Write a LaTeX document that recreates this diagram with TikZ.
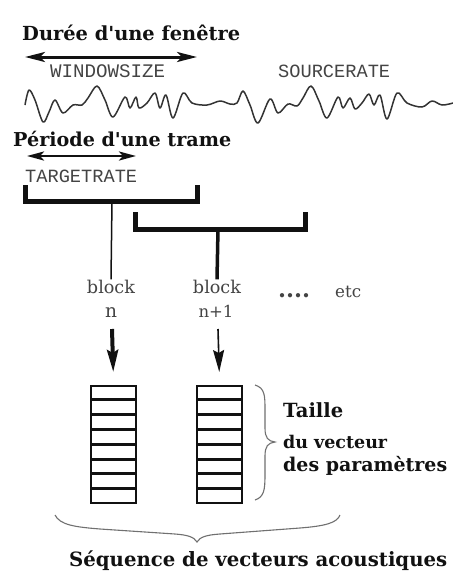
\documentclass[tikz,border=0pt]{standalone}
\usepackage{fontspec}
\usepackage{graphicx}
\usetikzlibrary{arrows.meta,calc}
\newfontfamily\serifd{DejaVu Serif}
\newfontfamily\monod{Liberation Mono}
\newcommand{\fw}[2]{\resizebox{#1pt}{!}{#2}}
\definecolor{ink}{HTML}{111111}
\definecolor{txtgray}{HTML}{444444}
\definecolor{bracegray}{HTML}{707070}
\definecolor{wavegray}{HTML}{333333}
\tikzset{
  head/.style={inner sep=0pt,anchor=base west,text=ink,font=\serifd\bfseries},
  monotxt/.style={inner sep=0pt,anchor=base west,text=txtgray,font=\monod},
  blocktxt/.style={inner sep=0pt,anchor=base,text=txtgray,font=\serifd},
  dbl/.style={line width=3pt,ink,{Stealth[length=20pt,width=10pt,inset=5pt]}-{Stealth[length=20pt,width=10pt,inset=5pt]}},
  dbltwo/.style={line width=2.6pt,ink,{Stealth[length=17pt,width=9pt,inset=4pt]}-{Stealth[length=17pt,width=9pt,inset=4pt]}},
  bracketline/.style={line width=5pt,ink,miter limit=10,line join=miter},
  vecbox/.style={draw=ink,line width=1.5pt,minimum width=45pt,minimum height=117pt,inner sep=0pt},
  cellline/.style={line width=3pt,ink},
  bracecurve/.style={bracegray,line width=1.1pt},
  downarrow/.style={ink,-{Stealth[length=22pt,width=11pt,inset=3pt]}}
}
\begin{document}
\begin{tikzpicture}[x=1pt,y=-1pt]
\useasboundingbox[fill=white] (0,0) rectangle (453,574);

% headings
\node[head] (h1) at (22,40) {\fw{218}{Durée d'une fenêtre}};
\node[head] (h2) at (13,146) {\fw{218}{Période d'une trame}};

% window arrow
\coordinate (w1) at (25,57);
\coordinate (w2) at (197,57);
\draw[dbl] (w1) -- (w2);
\node[monotxt] (ws) at (50,77) {\fw{115}{WINDOWSIZE}};
\node[monotxt] (sr) at (278,77) {\fw{112}{SOURCERATE}};

% waveform
\draw[wavegray,line width=1.5pt,line join=round] plot[smooth,tension=0.55] coordinates {
(25,105) (29,90) (35,100) (43,122) (49,112) (55,100) (63,113) (73,105) (82,105) (88,98) (97,86)
(105,100) (113,117) (125,97) (130,108) (136,97) (139,108) (147,103) (155,93) (160,108) (166,95)
(173,118) (183,93) (192,103) (207,105) (220,101) (230,104) (237,103) (243,91) (250,105) (258,123)
(270,99) (278,113) (288,104) (297,106) (303,98) (311,86) (319,101) (327,118) (338,97) (343,108)
(350,98) (355,109) (362,103) (369,94) (374,105) (380,95) (387,119) (397,93) (407,103) (422,107)
(432,101) (442,105) (453,103)};

% frame arrow
\coordinate (t1) at (27,156);
\coordinate (t2) at (136,156);
\draw[dbltwo] (t1) -- (t2);
\node[monotxt] (tr) at (25,182) {\fw{112}{TARGETRATE}};

% brackets
\coordinate (b1l) at (25,185);
\coordinate (b1r) at (197,185);
\coordinate (b1m) at (112,201);
\draw[bracketline] (b1l) |- (b1m) -| (b1r);
\coordinate (b2l) at (135,212);
\coordinate (b2r) at (305,212);
\coordinate (b2m) at (218,229);
\draw[bracketline] (b2l) |- (b2m) -| (b2r);

% blocks labels
\node[blocktxt] (bk1) at (111,293) {\fw{48}{block}};
\node[blocktxt] (n1) at (111,317) {\fw{12}{n}};
\node[blocktxt] (bk2) at (217,293) {\fw{48}{block}};
\node[blocktxt] (n2) at (216,317) {\fw{35}{n+1}};
\node[blocktxt,anchor=base west] (dots) at (278,297) {\fw{32}{\bfseries....}};
\node[blocktxt,anchor=base west] (etc) at (335,297) {\fw{26}{etc}};

% stems
\draw[ink,line width=1.5pt] (b1m) -- (bk1.north);
\draw[ink,line width=3.5pt] (b2m) -- (bk2.north);

% vectors
\node[vecbox,anchor=north west] (v1) at (90,385) {};
\node[vecbox,anchor=north west] (v2) at (196,385) {};
\foreach \v in {v1,v2}{
  \foreach \k in {1,...,7}{
    \draw[cellline] ($(\v.north west)!\k/8!(\v.south west)$) -- ($(\v.north east)!\k/8!(\v.south east)$);
  }
}

% arrows to vectors
\coordinate (a1s) at (112,329);
\coordinate (a2s) at (218,329);
\draw[downarrow,line width=4pt] (a1s) -- (v1.north |- 0,372);
\draw[downarrow,line width=1.6pt] (a2s) -- (v2.north |- 0,372);

% right brace
\draw[bracecurve] (255,385) .. controls (265,388) and (265,396) .. (265,410) -- (265,428)
  .. controls (265,438) and (268,441) .. (275,442)
  .. controls (268,443) and (265,446) .. (265,456) -- (265,475)
  .. controls (265,490) and (264,497) .. (255,500);
\node[head] (ta) at (283,417) {\fw{60}{Taille}};
\node[head] (dv) at (283,448) {\fw{104}{du vecteur}};
\node[head] (dp) at (283,471) {\fw{164}{des paramètres}};

% bottom brace
\draw[bracecurve] (55,515) .. controls (60,525) and (75,527) .. (100,529) -- (175,534)
  .. controls (188,535) and (194,537) .. (197,542)
  .. controls (200,537) and (206,535) .. (220,534) -- (300,528)
  .. controls (325,526) and (337,523) .. (340,515);
\node[head] (sq) at (69,566) {\fw{378}{Séquence de vecteurs acoustiques}};
\end{tikzpicture}
\end{document}
